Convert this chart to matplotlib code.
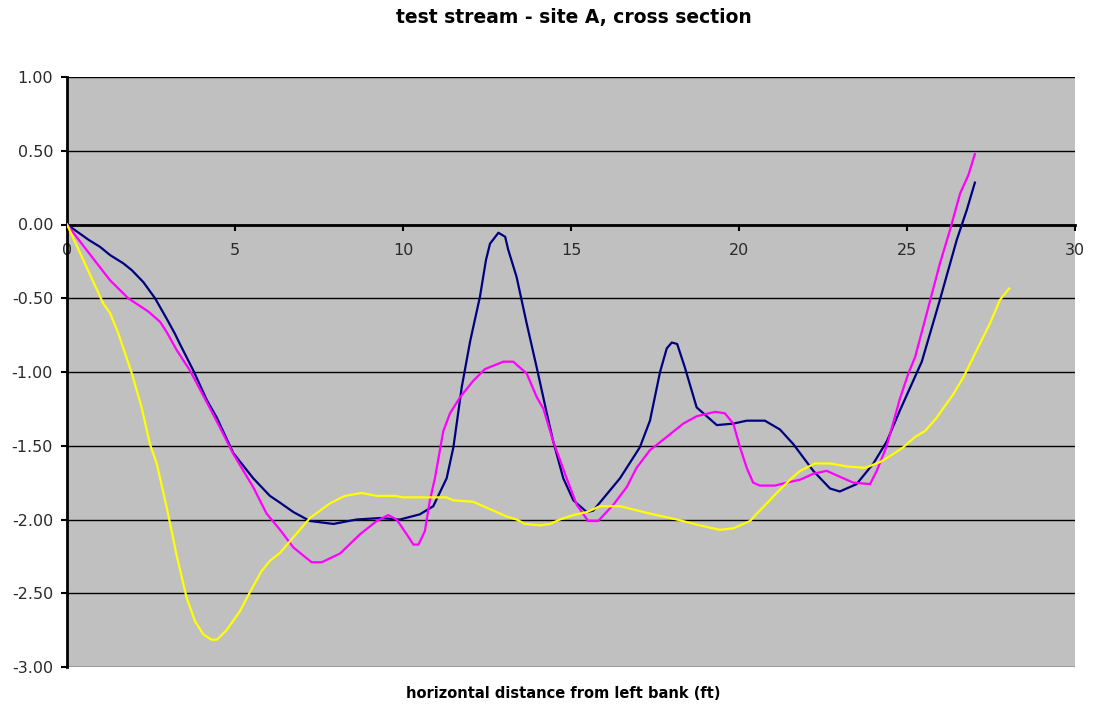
import matplotlib
matplotlib.use("Agg")
import matplotlib.pyplot as plt

title = "test stream - site A, cross section"
xlabel = "horizontal distance from left bank (ft)"
x_ticks = [0, 5, 10, 15, 20, 25, 30]
y_ticks = [1.0, 0.5, 0.0, -0.5, -1.0, -1.5, -2.0, -2.5, -3.0]

navy_x = [0, 0.65, 0.98, 1.28, 1.68, 1.93, 2.27, 2.62, 2.97, 3.21, 3.36, 3.76, 4.16, 4.46, 4.95,
          5.54, 6.04, 6.34, 6.74, 7.23, 7.93, 8.62, 9.32, 9.91, 10.5, 10.9, 11.3, 11.5, 11.75, 12.0,
          12.29, 12.47, 12.59, 12.84, 13.04, 13.13, 13.38, 13.68, 13.98, 14.28, 14.47, 14.77, 15.07,
          15.47, 15.66, 16.06, 16.46, 17.05, 17.35, 17.65, 17.85, 18.0, 18.16, 18.39, 18.74, 19.34,
          19.83, 20.23, 20.77, 21.22, 21.62, 22.21, 22.71, 23.0, 23.5, 24.0, 24.4, 24.79, 25.44,
          25.98, 26.48, 26.78, 27.02]
navy_y = [0, -0.105, -0.151, -0.207, -0.264, -0.31, -0.39, -0.50, -0.64, -0.74, -0.81, -0.99,
          -1.19, -1.31, -1.55, -1.72, -1.84, -1.886, -1.95, -2.01, -2.03, -2.00, -1.99, -2.00,
          -1.965, -1.91, -1.72, -1.51, -1.10, -0.79, -0.49, -0.24, -0.13, -0.056, -0.083, -0.17,
          -0.355, -0.67, -0.97, -1.28, -1.47, -1.72, -1.87, -1.95, -1.94, -1.83, -1.72, -1.51,
          -1.33, -1.00, -0.84, -0.80, -0.81, -0.97, -1.24, -1.36, -1.35, -1.33, -1.33, -1.39,
          -1.49, -1.67, -1.79, -1.81, -1.76, -1.62, -1.47, -1.26, -0.93, -0.51, -0.105, 0.099,
          0.284]

magenta_x = [0, 0.59, 1.28, 1.82, 2.42, 2.77, 2.97, 3.26, 3.66, 4.16, 4.55, 4.95, 5.54, 5.94,
             6.34, 6.74, 7.28, 7.58, 8.13, 8.72, 9.22, 9.56, 9.81, 10.11, 10.31, 10.46, 10.65,
             10.8, 10.95, 11.2, 11.4, 11.7, 12.09, 12.44, 12.99, 13.28, 13.68, 13.98, 14.18,
             14.47, 14.87, 15.17, 15.51, 15.81, 16.26, 16.66, 16.95, 17.35, 17.85, 18.34, 18.74,
             19.29, 19.58, 19.83, 20.03, 20.23, 20.42, 20.62, 21.07, 21.42, 21.82, 22.21, 22.61,
             22.9, 23.4, 23.9, 24.1, 24.4, 24.79, 25.04, 25.24, 25.59, 25.98, 26.28, 26.58,
             26.83, 27.02]
magenta_y = [0, -0.175, -0.378, -0.50, -0.59, -0.66, -0.73, -0.85, -0.99, -1.205, -1.375,
             -1.556, -1.78, -1.96, -2.07, -2.19, -2.29, -2.29, -2.23, -2.10, -2.01, -1.97, -2.00,
             -2.10, -2.17, -2.17, -2.08, -1.87, -1.72, -1.40, -1.28, -1.17, -1.06, -0.98, -0.93,
             -0.93, -1.01, -1.17, -1.25, -1.47, -1.72, -1.90, -2.01, -2.01, -1.90, -1.78, -1.65,
             -1.53, -1.44, -1.35, -1.30, -1.27, -1.28, -1.35, -1.51, -1.65, -1.75, -1.77, -1.77,
             -1.75, -1.73, -1.69, -1.67, -1.70, -1.75, -1.76, -1.67, -1.50, -1.18, -1.01, -0.90,
             -0.60, -0.264, -0.037, 0.21, 0.337, 0.478]

yellow_x = [0, 1.08, 1.28, 1.53, 1.93, 2.22, 2.47, 2.67, 2.97, 3.26, 3.56, 3.81, 4.06, 4.30, 4.46,
            4.75, 5.15, 5.45, 5.79, 6.04, 6.34, 6.74, 7.23, 7.83, 8.27, 8.77, 9.22, 9.76, 10.01,
            11.3, 11.5, 12.09, 12.59, 13.09, 13.38, 13.63, 14.08, 14.38, 14.67, 15.07, 15.47,
            15.86, 16.46, 17.35, 18.15, 18.84, 19.43, 19.83, 20.33, 20.53, 20.83, 21.12, 21.52,
            21.82, 22.26, 22.71, 23.2, 23.75, 24.2, 24.5, 24.89, 25.24, 25.54, 25.88, 26.38,
            26.68, 27.07, 27.47, 27.77, 28.04]
yellow_y = [0, -0.536, -0.60, -0.74, -1.01, -1.24, -1.49, -1.62, -1.92, -2.24, -2.53, -2.69,
            -2.78, -2.815, -2.815, -2.75, -2.62, -2.49, -2.35, -2.28, -2.226, -2.12, -1.99, -1.89,
            -1.84, -1.82, -1.84, -1.84, -1.85, -1.85, -1.87, -1.88, -1.93, -1.98, -2.00, -2.03,
            -2.04, -2.03, -2.00, -1.97, -1.95, -1.91, -1.91, -1.96, -2.00, -2.04, -2.07, -2.06,
            -2.01, -1.96, -1.89, -1.82, -1.73, -1.67, -1.62, -1.62, -1.64, -1.65, -1.61, -1.57,
            -1.51, -1.44, -1.40, -1.31, -1.15, -1.035, -0.854, -0.67, -0.51, -0.434]

plt.rcParams['font.family'] = ['DejaVu Sans']

fig = plt.figure(figsize=(10.94, 7.10), dpi=100)
fig.patch.set_facecolor('white')
ax = fig.add_axes([67/1094, 1 - 667/710, (1075 - 67)/1094, (667 - 77)/710])
ax.set_facecolor('#C0C0C0')

for yt in y_ticks:
    ax.axhline(yt, color='black', lw=1.0, zorder=1)

ax.plot(navy_x, navy_y, color='#000080', lw=1.6, zorder=3)
ax.plot(magenta_x, magenta_y, color='#FF00FF', lw=1.6, zorder=3)
ax.plot(yellow_x, yellow_y, color='#FFFF00', lw=1.6, zorder=3)

ax.set_xlim(0, 30)
ax.set_ylim(-3, 1)
ax.set_xticks(x_ticks)
ax.set_xticklabels([str(v) for v in x_ticks])
ax.set_yticks(y_ticks)
ax.set_yticklabels([f"{v:.2f}" for v in y_ticks])

for s in ['top', 'right']:
    ax.spines[s].set_visible(False)
ax.spines['bottom'].set_position(('data', 0))
ax.spines['bottom'].set_linewidth(2.0)
ax.spines['left'].set_linewidth(2.0)
ax.spines['bottom'].set_zorder(2)

ax.tick_params(axis='x', direction='out', length=4, width=1.5, pad=9, labelsize=11.5, colors='black')
ax.tick_params(axis='y', direction='out', length=4, width=1.5, pad=6, labelsize=11.5, colors='black')
for lbl in ax.get_xticklabels() + ax.get_yticklabels():
    lbl.set_color('#2a2a2a')

fig.text(574/1094, 1 - 18/710, title, ha='center', va='center', fontsize=13.5, fontweight='bold')
fig.text(563/1094, 1 - 693/710, xlabel, ha='center', va='center', fontsize=10.5, fontweight='bold')

fig.savefig('out.png', dpi=100)
